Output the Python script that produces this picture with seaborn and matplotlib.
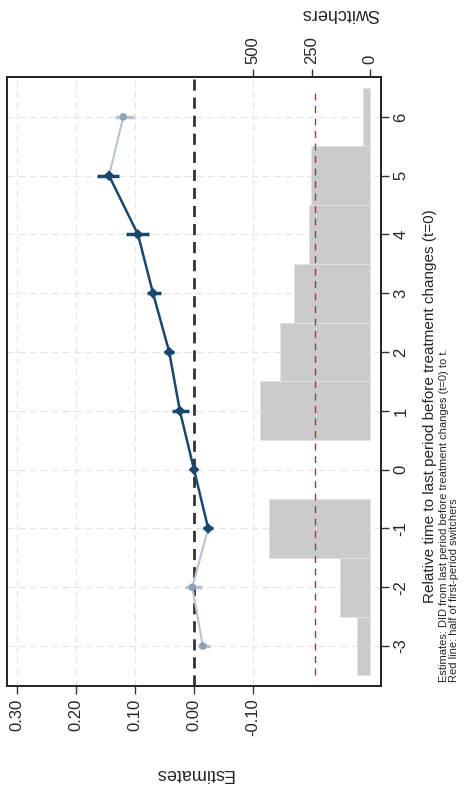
import numpy as np
import pandas as pd
import matplotlib
matplotlib.use("Agg")
import matplotlib.pyplot as plt
import seaborn as sns

# event-study estimates (relative time t, estimate, 95% CI)
periods = [-3, -2, -1, 0, 1, 2, 3, 4, 5, 6]
estimates = [-0.015, 0.003, -0.024, 0.0, 0.024, 0.042, 0.0695, 0.095, 0.144, 0.120]
ci_low = [-0.027, -0.014, -0.032, 0.0, 0.008, 0.034, 0.056, 0.076, 0.127, 0.102]
ci_high = [-0.007, 0.015, -0.015, 0.0, 0.037, 0.051, 0.080, 0.115, 0.164, 0.134]
highlight = [False, False, True, True, True, True, True, True, True, False]

# number of switchers per relative period
switch_periods = [-3, -2, -1, 1, 2, 3, 4, 5, 6]
switchers = [56, 128, 432, 470, 385, 325, 261, 252, 30]
half_first = 235

sns.set_style("white")
plt.rcParams['font.family'] = ['Liberation Sans', 'DejaVu Sans']
plt.rcParams['axes.unicode_minus'] = False

df = pd.DataFrame({"t": periods, "est": estimates, "lo": ci_low, "hi": ci_high, "hl": highlight})

dark = "#1a476f"
light_line = "#b7c4d2"
light_pt = "#8da2b8"

fig = plt.figure(figsize=(4.67, 7.89), dpi=100)
ax = fig.add_axes([0.015, 0.1305, 0.801, 0.772])

# grid
for v in [0.30, 0.20, 0.10, -0.10]:
    ax.axvline(v, color="#e4e4e4", lw=0.8, ls=(0, (6, 4)), zorder=0)
for t in periods:
    ax.axhline(t, color="#e4e4e4", lw=0.8, ls=(0, (6, 4)), zorder=0)

ax.axvline(0, color="#333333", lw=2, ls=(0, (4, 2.5)), zorder=2)

# faded segments then main segment
pre = df[df.t <= -1]
post = df[df.t >= 5]
main = df[df.hl]
for seg in [pre, post]:
    sns.lineplot(data=seg, x="est", y="t", sort=False, estimator=None,
                 color=light_line, lw=1.5, ax=ax, zorder=3)
sns.lineplot(data=main, x="est", y="t", sort=False, estimator=None,
             color=dark, lw=1.8, ax=ax, zorder=4)

faded = df[~df.hl]
ax.hlines(faded.t, faded.lo, faded.hi, color=light_pt, lw=2.5, alpha=0.6, zorder=3)
ax.hlines(main.t, main.lo, main.hi, color=dark, lw=2.5, zorder=5)
sns.scatterplot(data=faded, x="est", y="t", color=light_pt, s=30, edgecolor="none", ax=ax, zorder=4)
sns.scatterplot(data=main, x="est", y="t", color=dark, s=30, marker="D", edgecolor="none", ax=ax, zorder=6)

ax.set_xlim(0.317, -0.317)
ax.set_ylim(-3.68, 6.68)
ax.set_xticks([0.30, 0.20, 0.10, 0.00, -0.10])
ax.set_xticklabels(["0.30", "0.20", "0.10", "0.00", "-0.10"], rotation=90, fontsize=12)
ax.set_yticks(periods)
ax.yaxis.tick_right()
ax.set_yticklabels([str(p) for p in periods], rotation=90, fontsize=12, va="center")
ax.tick_params(axis="x", direction="out", length=6, width=1, color="#333333", pad=3)
ax.tick_params(axis="y", direction="out", length=6, width=1, color="#333333", pad=3)

ax.set_xlabel("Estimates", fontsize=13, rotation=180)
ax.xaxis.set_label_coords(0.5, -0.13)
ax.yaxis.set_label_position("right")
ax.set_ylabel("Relative time to last period before treatment changes (t=0)", fontsize=11, rotation=90)
ax.yaxis.set_label_coords(1.112, 0.46)

# switchers histogram on the second axis
ax2 = ax.twiny()
ax2.patch.set_visible(False)
ax2.barh(switch_periods, switchers, height=1.0, color="#cbcbcb", edgecolor="#e2e2e2", lw=0.6, zorder=1)
ax2.vlines(half_first, -3.5, 6.5, color="#a33a3a", lw=1, ls=(0, (5, 4)), zorder=2)
ax2.set_xlim(1551, -47)
ax2.set_xticks([500, 250, 0])
ax2.set_xticklabels(["500", "250", "0"], rotation=90, fontsize=12)
ax2.tick_params(axis="x", direction="out", length=6, width=1, color="#333333", pad=3)
ax2.set_xlabel("Switchers", fontsize=13, rotation=180)
ax2.xaxis.set_label_coords(0.89, 1.097)

for a in [ax, ax2]:
    for s in a.spines.values():
        s.set_color("#222222")
        s.set_linewidth(1.2)

fig.text(0.951, 0.1356, "Estimates: DID from last period before treatment changes (t=0) to t.",
         rotation=90, fontsize=8, ha="center", va="bottom")
fig.text(0.972, 0.1356, "Red line: half of first-period switchers",
         rotation=90, fontsize=8, ha="center", va="bottom")

fig.savefig("out.png", dpi=100)
